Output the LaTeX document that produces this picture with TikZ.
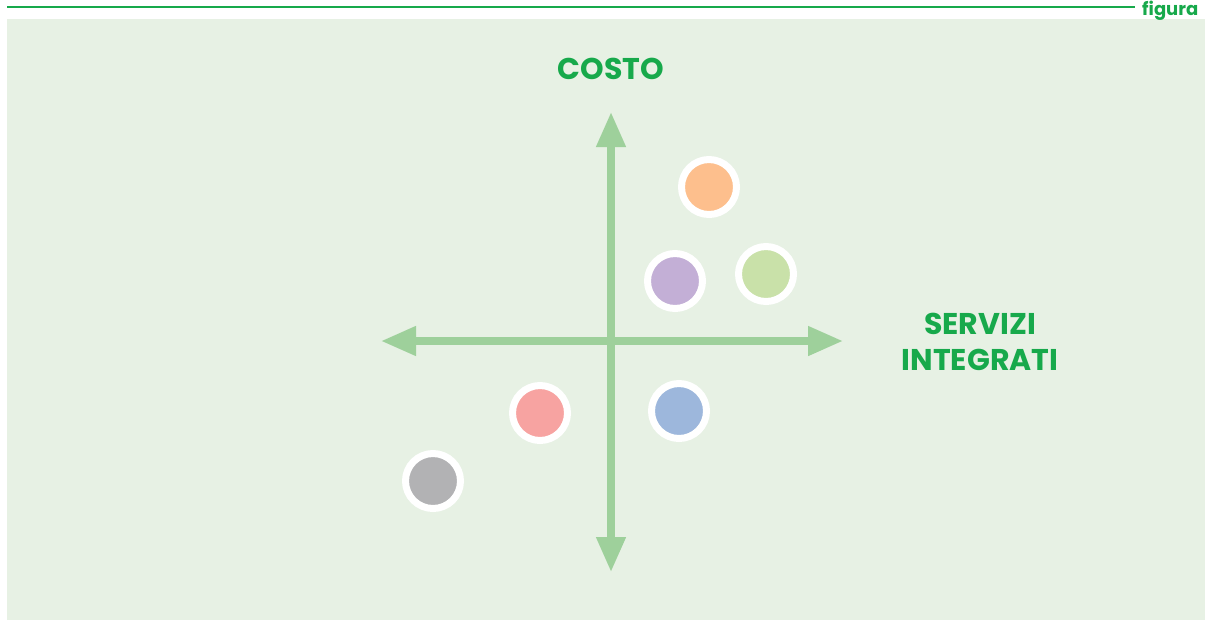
\documentclass[tikz,border=0pt]{standalone}
\usepackage{fontspec}
\setmainfont{Poppins}
\usetikzlibrary{arrows.meta}
\definecolor{titlegreen}{HTML}{17A94B}
\definecolor{axisgreen}{HTML}{9ED09B}
\definecolor{panelbg}{HTML}{E7F1E4}
\definecolor{dotorange}{HTML}{FDBF8D}
\definecolor{dotpurple}{HTML}{C3AFD6}
\definecolor{dotgreen}{HTML}{C9E1A9}
\definecolor{dotred}{HTML}{F7A3A1}
\definecolor{dotblue}{HTML}{9DB7DC}
\definecolor{dotgray}{HTML}{B2B2B4}
\begin{document}
\begin{tikzpicture}[x=1pt,y=-1pt,
    axis/.style={axisgreen,line width=7.5pt,{Triangle[length=35pt,width=28pt]}-{Triangle[length=35pt,width=28pt]}},
    dot/.style={circle,draw=white,line width=7pt,minimum size=55pt,inner sep=0pt},
    axis label/.style={text=titlegreen,font=\fontsize{30}{36}\selectfont\bfseries}]
    \useasboundingbox (0,0) rectangle (1206,625);
    % panel
    \fill[panelbg] (7,19) rectangle (1205,620);
    \draw[titlegreen,line width=2.2pt] (7,7) -- (1135,7);
    \node[anchor=base west,inner sep=0pt,text=titlegreen,font=\fontsize{18}{22}\selectfont\bfseries] (fig) at (1142,15) {figura};

    % axes
    \coordinate (top) at (611,112);
    \coordinate (bottom) at (611,572);
    \coordinate (left) at (381,341);
    \coordinate (right) at (843,341);
    \draw[axis] (bottom) -- (top);
    \draw[axis] (left) -- (right);

    \node[axis label,anchor=base,inner sep=0pt] (cost) at (611,79) {COSTO};
    \node[axis label,align=center,inner sep=0pt] (serv) at (980,342) {SERVIZI\\INTEGRATI};

    % dots
    \node[dot,fill=dotorange] (orange) at (709,187) {};
    \node[dot,fill=dotpurple] (purple) at (675,281) {};
    \node[dot,fill=dotgreen] (green) at (766,274) {};
    \node[dot,fill=dotred] (red) at (540,413) {};
    \node[dot,fill=dotblue] (blue) at (679,411) {};
    \node[dot,fill=dotgray] (gray) at (433,481) {};
\end{tikzpicture}
\end{document}
